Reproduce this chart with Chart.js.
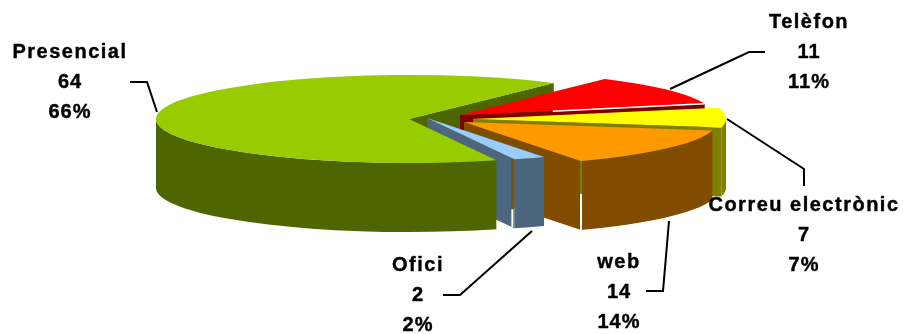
<!DOCTYPE html>
<html lang="ca">
<head>
    <meta charset="UTF-8">
    <title>Canals</title>
    <script src="https://cdn.jsdelivr.net/npm/chart.js"></script>
    <style>
        html, body { margin: 0; padding: 0; background: #fff; }
        #wrap { position: relative; width: 903px; height: 334px; }
    </style>
</head>
<body>
    <div id="wrap"><canvas id="grafic"></canvas></div>
    <script>
        const categories = ['Presencial', 'Telèfon', 'Correu electrònic', 'web', 'Ofici'];
        const valors = [64, 11, 7, 14, 2];
        const percentatges = ['66%', '11%', '7%', '14%', '2%'];

        const colorsTapa = ['#99cc00', '#ff0000', '#ffff00', '#ff9900', '#99ccff'];
        const colorsParet = ['#4d6600', '#800000', '#808000', '#804d00', '#4d6680'];

        // how far each slice is pulled out of the pie, in px
        const separacio = [[-28, -0.5], [23, -4.5], [36, -0.5], [27, 2.5], [-10, -1.5]];
        const aixafat = 44 / 253;
        const gruix = 69;

        // label anchor (centre x, first line y) and leader line of each slice
        const etiquetes = [
            { x: 70, y: 52, linia: [[130, 82], [147, 82], [157, 112]] },
            { x: 809, y: 22, linia: [[765, 52], [749, 52], [670, 89]] },
            { x: 804, y: 205, linia: [[727, 119], [804, 169], [804, 186]] },
            { x: 619, y: 262, linia: [[646, 291], [663, 291], [669, 221]] },
            { x: 418, y: 265, linia: [[443, 295], [460, 295], [532, 231]] }
        ];

        function punt(arc, i, angle) {
            return {
                x: arc.x + separacio[i][0] + Math.cos(angle) * arc.outerRadius,
                y: arc.y + separacio[i][1] + Math.sin(angle) * arc.outerRadius * aixafat
            };
        }

        // flat wall along one of the two cut edges of a slice
        function paretTall(ctx, arc, i, angle) {
            const a = { x: arc.x + separacio[i][0], y: arc.y + separacio[i][1] };
            const b = punt(arc, i, angle);
            ctx.fillStyle = colorsParet[i];
            ctx.beginPath();
            ctx.moveTo(a.x, a.y);
            ctx.lineTo(b.x, b.y);
            ctx.lineTo(b.x, b.y + gruix);
            ctx.lineTo(a.x, a.y + gruix);
            ctx.closePath();
            ctx.fill();
        }

        // curved outer wall, only the part facing the viewer (lower half of the ellipse)
        function paretExterior(ctx, arc, i) {
            const cx = arc.x + separacio[i][0];
            const cy = arc.y + separacio[i][1];
            const ry = arc.outerRadius * aixafat;
            // arc angles can run past a full turn, so test both lower halves
            [0, 2 * Math.PI].forEach(function (base) {
                const ini = Math.max(arc.startAngle, base);
                const fi = Math.min(arc.endAngle, base + Math.PI);
                if (fi <= ini) return;
                ctx.fillStyle = colorsParet[i];
                ctx.beginPath();
                ctx.ellipse(cx, cy, arc.outerRadius, ry, 0, ini, fi);
                ctx.ellipse(cx, cy + gruix, arc.outerRadius, ry, 0, fi, ini, true);
                ctx.closePath();
                ctx.fill();
            });
        }

        function tapa(ctx, arc, i) {
            ctx.save();
            ctx.translate(arc.x + separacio[i][0], arc.y + separacio[i][1]);
            ctx.scale(1, aixafat);
            ctx.translate(-arc.x, -arc.y);
            arc.draw(ctx);
            ctx.restore();
        }

        function costura(ctx, x, y0, y1, color) {
            ctx.strokeStyle = color;
            ctx.lineWidth = 2;
            ctx.beginPath();
            ctx.moveTo(x, y0);
            ctx.lineTo(x, y1);
            ctx.stroke();
        }

        // bold text with a hairline outline so it sits a bit heavier
        function text(ctx, cadena, x, y) {
            ctx.fillText(cadena, x, y);
            ctx.strokeText(cadena, x, y);
        }

        const pastis3d = {
            id: 'pastis3d',
            beforeDatasetDraw(chart) {
                const ctx = chart.ctx;
                const arcs = chart.getDatasetMeta(0).data;

                ctx.save();
                // back to front
                paretTall(ctx, arcs[0], 0, arcs[0].endAngle);
                [1, 2, 3].forEach(function (i) {
                    paretTall(ctx, arcs[i], i, arcs[i].endAngle);
                    paretExterior(ctx, arcs[i], i);
                    tapa(ctx, arcs[i], i);
                });
                paretTall(ctx, arcs[4], 4, arcs[4].endAngle);
                paretExterior(ctx, arcs[0], 0);
                tapa(ctx, arcs[0], 0);
                paretExterior(ctx, arcs[4], 4);
                tapa(ctx, arcs[4], 4);

                // white hairline along the front edge of the red slice
                const fiTelefon = punt(arcs[1], 1, arcs[1].endAngle);
                ctx.strokeStyle = '#ffffff';
                ctx.lineWidth = 1.5;
                ctx.beginPath();
                ctx.moveTo(fiTelefon.x - 152, fiTelefon.y + 7.5);
                ctx.lineTo(fiTelefon.x, fiTelefon.y);
                ctx.stroke();

                // light seams on the front corners
                const cantoWeb = punt(arcs[3], 3, arcs[3].endAngle);
                costura(ctx, cantoWeb.x, cantoWeb.y, cantoWeb.y + 33, '#808000');
                costura(ctx, cantoWeb.x, cantoWeb.y + 33, cantoWeb.y + gruix, '#ffffff');
                const cantoOfici = punt(arcs[4], 4, arcs[4].endAngle);
                costura(ctx, cantoOfici.x - 2, cantoOfici.y, cantoOfici.y + 50, '#804d00');
                costura(ctx, cantoOfici.x - 2, cantoOfici.y + 50, cantoOfici.y + gruix - 1, '#ffffff');
                ctx.restore();
                return false;
            },
            afterDraw(chart) {
                const ctx = chart.ctx;
                ctx.save();
                ctx.strokeStyle = '#000';
                ctx.lineWidth = 2;
                etiquetes.forEach(function (e) {
                    ctx.beginPath();
                    e.linia.forEach(function (p, n) {
                        if (n === 0) ctx.moveTo(p[0], p[1]);
                        else ctx.lineTo(p[0], p[1]);
                    });
                    ctx.stroke();
                });
                ctx.fillStyle = '#000';
                ctx.lineWidth = 0.4;
                ctx.font = 'bold 20px "Liberation Sans"';
                ctx.textAlign = 'center';
                ctx.textBaseline = 'middle';
                categories.forEach(function (nom, i) {
                    const e = etiquetes[i];
                    ctx.letterSpacing = '1.5px';
                    text(ctx, nom, e.x, e.y);
                    ctx.letterSpacing = '1px';
                    text(ctx, String(valors[i]), e.x, e.y + 30);
                    text(ctx, percentatges[i], e.x, e.y + 60);
                });
                ctx.restore();
            }
        };

        new Chart(document.getElementById('grafic'), {
            type: 'pie',
            data: {
                labels: categories,
                datasets: [{
                    data: valors,
                    backgroundColor: colorsTapa,
                    borderWidth: 0
                }]
            },
            options: {
                responsive: true,
                maintainAspectRatio: false,
                animation: false,
                rotation: 159.8,
                radius: 253,
                layout: { padding: { right: 29, bottom: 95 } },
                plugins: {
                    legend: { display: false },
                    tooltip: { enabled: false }
                }
            },
            plugins: [pastis3d]
        });
    </script>
</body>
</html>
